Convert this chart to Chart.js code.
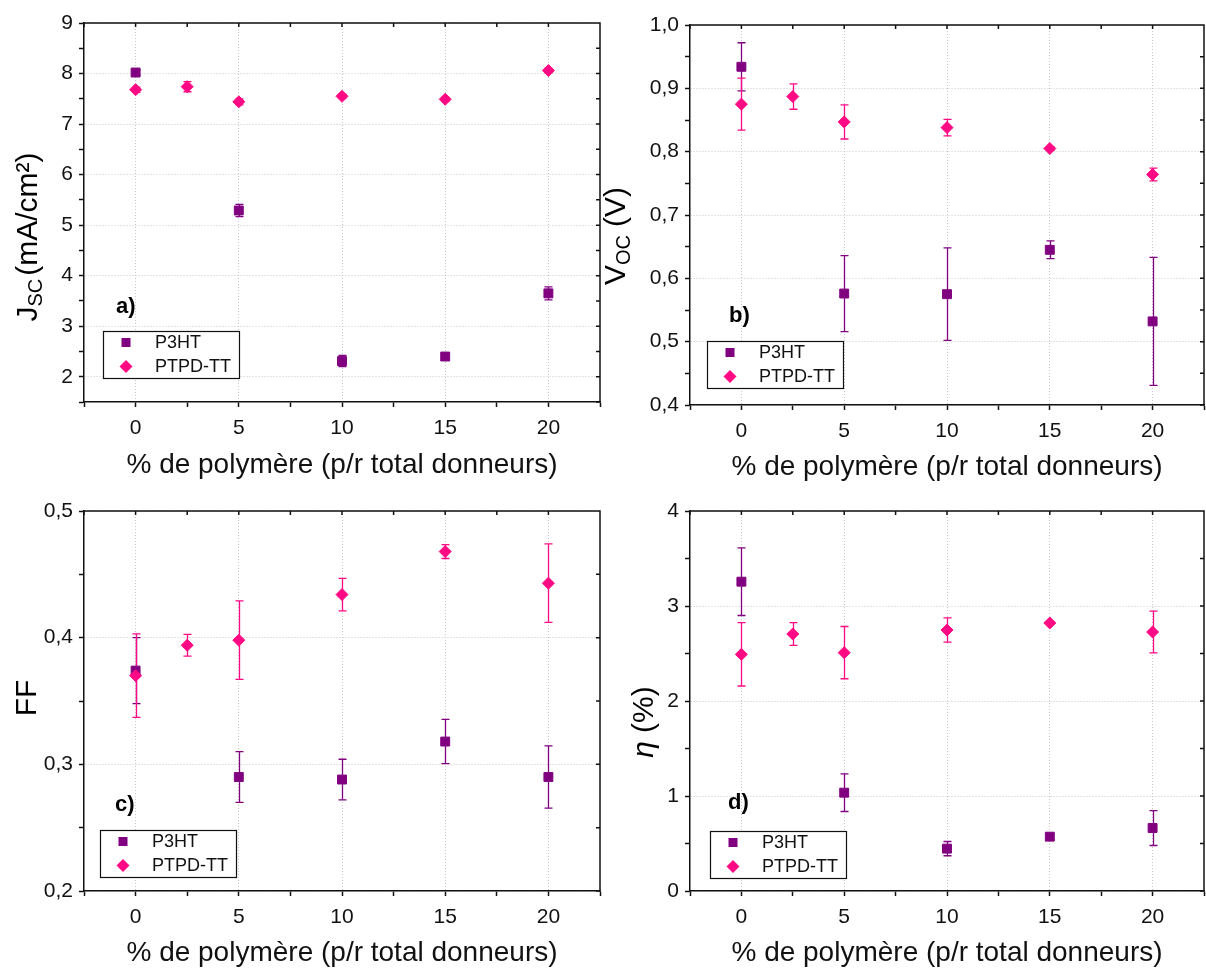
<!DOCTYPE html>
<html><head><meta charset="utf-8">
<script src="https://cdn.jsdelivr.net/npm/chart.js@4/dist/chart.umd.min.js"></script>
<style>
html,body{margin:0;padding:0;background:#fff;width:1206px;height:968px;overflow:hidden}
canvas{position:absolute}
</style></head><body>
<canvas id="ca" width="603" height="484" style="left:0;top:0"></canvas>
<canvas id="cb" width="603" height="484" style="left:603px;top:0"></canvas>
<canvas id="cc" width="603" height="484" style="left:0;top:484px"></canvas>
<canvas id="cd" width="603" height="484" style="left:603px;top:484px"></canvas>
<script>
// ---- data ----
const seriesNames = ['P3HT', 'PTPD-TT'];
const xP3HT = [0, 5, 10, 15, 20];
const xPTPD = [0, 2.5, 5, 10, 15, 20];

const jscP3HT = [8.02, 5.29, 2.31, 2.40, 3.65];
const jscP3HTErr = [0.05, 0.12, 0.11, 0.05, 0.13];
const jscPTPD = [7.68, 7.74, 7.44, 7.55, 7.49, 8.06];
const jscPTPDErr = [0.05, 0.10, 0.06, 0.04, 0.04, 0.04];

const vocP3HT = [0.934, 0.576, 0.575, 0.645, 0.532];
const vocP3HTErr = [0.038, 0.060, 0.073, 0.014, 0.101];
const vocPTPD = [0.875, 0.887, 0.847, 0.838, 0.805, 0.764];
const vocPTPDErr = [0.041, 0.020, 0.027, 0.013, 0.003, 0.010];

const ffP3HT = [0.374, 0.290, 0.288, 0.318, 0.290];
const ffP3HTErr = [0.026, 0.020, 0.016, 0.0175, 0.0245];
const ffPTPD = [0.370, 0.394, 0.398, 0.434, 0.468, 0.443];
const ffPTPDErr = [0.033, 0.0086, 0.031, 0.0128, 0.0055, 0.031];

const etaP3HT = [3.256, 1.035, 0.446, 0.572, 0.663];
const etaP3HTErr = [0.356, 0.198, 0.075, 0.03, 0.184];
const etaPTPD = [2.491, 2.705, 2.509, 2.747, 2.821, 2.726];
const etaPTPDErr = [0.333, 0.12, 0.275, 0.128, 0.01, 0.22];

const xTickValues = [0, 5, 10, 15, 20];
const xTickLabels = ['0', '5', '10', '15', '20'];
const jscTickValues = [2, 3, 4, 5, 6, 7, 8, 9];
const jscTickLabels = ['2', '3', '4', '5', '6', '7', '8', '9'];
const vocTickValues = [0.4, 0.5, 0.6, 0.7, 0.8, 0.9, 1.0];
const vocTickLabels = ['0,4', '0,5', '0,6', '0,7', '0,8', '0,9', '1,0'];
const ffTickValues = [0.2, 0.3, 0.4, 0.5];
const ffTickLabels = ['0,2', '0,3', '0,4', '0,5'];
const etaTickValues = [0, 1, 2, 3, 4];
const etaTickLabels = ['0', '1', '2', '3', '4'];

const xTitle = '% de polymère (p/r total donneurs)';

// ---- styles ----
const FONT = "'Liberation Sans', Arial, Helvetica, sans-serif";
const PURPLE = '#800080';
const PINK = '#ff0a84';

function findIdx(vals, v) { return vals.findIndex(t => Math.abs(t - v) < 1e-6); }

const decor = {
  id: 'decor',
  beforeDatasetsDraw(chart) {
    const ctx = chart.ctx, xs = chart.scales.x, ys = chart.scales.y;
    chart.data.datasets.forEach(ds => {
      if (!ds.errorBars) return;
      ctx.save();
      ctx.strokeStyle = ds.borderColor;
      ctx.lineWidth = 1.3;
      ds.data.forEach((p, j) => {
        const e = ds.errorBars[j];
        const x = Math.round(xs.getPixelForValue(p.x)) + 0.5;
        const y1 = ys.getPixelForValue(p.y + e), y2 = ys.getPixelForValue(p.y - e);
        ctx.beginPath();
        ctx.moveTo(x, y1); ctx.lineTo(x, y2);
        ctx.moveTo(x - 4, y1); ctx.lineTo(x + 4, y1);
        ctx.moveTo(x - 4, y2); ctx.lineTo(x + 4, y2);
        ctx.stroke();
      });
      ctx.restore();
    });
  },
  afterDraw(chart, args, o) {
    const ctx = chart.ctx, xs = chart.scales.x, ys = chart.scales.y;
    const {left, right, top, bottom} = chart.chartArea;
    ctx.save();
    ctx.strokeStyle = '#111';
    ctx.lineWidth = 1.5;
    ctx.beginPath();
    ctx.moveTo(left, top); ctx.lineTo(right, top); ctx.lineTo(right, bottom);
    xs.ticks.forEach(t => { const px = xs.getPixelForValue(t.value); ctx.moveTo(px, top); ctx.lineTo(px, top + 4); });
    ys.ticks.forEach(t => { const py = ys.getPixelForValue(t.value); ctx.moveTo(right, py); ctx.lineTo(right - 4, py); });
    ctx.stroke();

    // legend
    const L = o.legend;
    ctx.fillStyle = '#fff';
    ctx.fillRect(L.x, L.y, L.w, L.h);
    ctx.lineWidth = 1.2;
    ctx.strokeStyle = '#111';
    ctx.strokeRect(L.x + 0.5, L.y + 0.5, L.w, L.h);
    const rows = [L.y + 11.5, L.y + 35.5];
    chart.data.datasets.forEach((ds, i) => {
      const cx = L.x + 23, cy = rows[i];
      ctx.fillStyle = ds.backgroundColor;
      ctx.beginPath();
      if (ds.pointStyle === 'rect') {
        ctx.rect(cx - 4.5, cy - 4.5, 9, 9);
      } else {
        ctx.moveTo(cx - 6.5, cy); ctx.lineTo(cx, cy - 6.5); ctx.lineTo(cx + 6.5, cy); ctx.lineTo(cx, cy + 6.5); ctx.closePath();
      }
      ctx.fill();
      ctx.fillStyle = '#111';
      ctx.font = '18px ' + FONT;
      ctx.textBaseline = 'middle';
      ctx.textAlign = 'left';
      ctx.fillText(ds.label, L.x + 52, cy + 1);
    });

    // panel label
    ctx.font = 'bold 22px ' + FONT;
    ctx.fillStyle = '#000';
    ctx.textBaseline = 'middle';
    ctx.fillText(o.tag.text, o.tag.x, o.tag.y);

    // y title
    const T = o.yTitle;
    ctx.translate(T.cx, T.cy);
    ctx.rotate(-Math.PI / 2);
    let total = 0;
    T.parts.forEach(p => { ctx.font = (p.italic ? 'italic ' : '') + p.size + 'px ' + FONT; p.w = ctx.measureText(p.t).width + (p.gap || 0); total += p.w; });
    let xx = -total / 2;
    ctx.textAlign = 'left';
    ctx.textBaseline = 'middle';
    T.parts.forEach(p => {
      ctx.font = (p.italic ? 'italic ' : '') + p.size + 'px ' + FONT;
      ctx.fillText(p.t, xx, p.dy || 0);
      xx += p.w;
    });
    ctx.restore();
  }
};

function makeChart(id, c) {
  const datasets = [
    {label: seriesNames[0], data: xP3HT.map((x, i) => ({x, y: c.p3[i]})), errorBars: c.p3e,
     pointStyle: 'rect', pointRadius: 6.3, pointBorderWidth: 1, backgroundColor: PURPLE, borderColor: PURPLE, order: 1, showLine: false},
    {label: seriesNames[1], data: xPTPD.map((x, i) => ({x, y: c.pt[i]})), errorBars: c.pte,
     pointStyle: 'rectRot', pointRadius: 6, pointBorderWidth: 1, backgroundColor: PINK, borderColor: PINK, order: 0, showLine: false}
  ];
  return new Chart(document.getElementById(id), {
    type: 'scatter',
    data: {datasets},
    plugins: [decor],
    options: {
      responsive: false, animation: false, devicePixelRatio: 1,
      layout: {autoPadding: false, padding: {left: 0, top: c.top, right: c.right, bottom: 0}},
      plugins: {legend: {display: false}, tooltip: {enabled: false}, decor: c.decor},
      scales: {
        x: {
          type: 'linear', min: -2.5, max: 22.5,
          afterFit: s => { s.height = c.xh; s.paddingLeft = 0; s.paddingRight = 0; },
          ticks: {stepSize: 2.5, autoSkip: false, maxRotation: 0, minRotation: 0, color: '#111', padding: 9,
                  font: {family: FONT, size: 21},
                  callback: v => { const k = findIdx(xTickValues, v); return k >= 0 ? xTickLabels[k] : ''; }},
          grid: {color: ctx => (ctx.tick && findIdx(xTickValues, ctx.tick.value) >= 0) ? '#c8c8c8' : 'rgba(0,0,0,0)',
                 lineWidth: 1, tickColor: '#111', tickLength: 5, tickWidth: 1.5},
          border: {display: true, color: '#111', width: 1.5, dash: [1, 2]},
          title: {display: true, text: xTitle, color: '#111', font: {family: FONT, size: 28, lineHeight: 1},
                  padding: {top: 0, bottom: c.tpad}}
        },
        y: {
          type: 'linear', min: c.ymin, max: c.ymax,
          afterFit: s => { s.width = c.yw; s.paddingTop = 0; s.paddingBottom = 0; },
          ticks: {stepSize: c.ystep, autoSkip: false, color: '#111', padding: 6,
                  font: {family: FONT, size: 21},
                  callback: v => { const k = findIdx(c.tv, v); return k >= 0 ? c.tl[k] : ''; }},
          grid: {color: ctx => (ctx.tick && findIdx(c.tv, ctx.tick.value) >= 0) ? '#c8c8c8' : 'rgba(0,0,0,0)',
                 lineWidth: 1, tickColor: '#111', tickLength: 5, tickWidth: 1.5},
          border: {display: true, color: '#111', width: 1.5, dash: [1, 2]}
        }
      }
    }
  });
}

makeChart('ca', {p3: jscP3HT, p3e: jscP3HTErr, pt: jscPTPD, pte: jscPTPDErr,
  ymin: 1.5, ymax: 9, ystep: 0.5, tv: jscTickValues, tl: jscTickLabels,
  top: 23, right: 3, yw: 84, xh: 82, tpad: 5,
  decor: {legend: {x: 103, y: 331, w: 136, h: 47}, tag: {text: 'a)', x: 116, y: 307},
    yTitle: {cx: 29, cy: 237, parts: [{t: 'J', size: 30}, {t: 'SC', size: 20, dy: 7, gap: 3}, {t: '(mA/cm²)', size: 30}]}}});

makeChart('cb', {p3: vocP3HT, p3e: vocP3HTErr, pt: vocPTPD, pte: vocPTPDErr,
  ymin: 0.4, ymax: 1.0, ystep: 0.05, tv: vocTickValues, tl: vocTickLabels,
  top: 25, right: 2, yw: 87, xh: 79, tpad: 3,
  decor: {legend: {x: 104, y: 341, w: 136, h: 47}, tag: {text: 'b)', x: 126, y: 316},
    yTitle: {cx: 14, cy: 236, parts: [{t: 'V', size: 30}, {t: 'OC', size: 20, dy: 7, gap: 8}, {t: '(V)', size: 30}]}}});

makeChart('cc', {p3: ffP3HT, p3e: ffP3HTErr, pt: ffPTPD, pte: ffPTPDErr,
  ymin: 0.2, ymax: 0.5, ystep: 0.05, tv: ffTickValues, tl: ffTickLabels,
  top: 27, right: 3, yw: 84, xh: 77, tpad: 1,
  decor: {legend: {x: 100, y: 346, w: 136, h: 47}, tag: {text: 'c)', x: 115, y: 321},
    yTitle: {cx: 28, cy: 214, parts: [{t: 'FF', size: 30}]}}});

makeChart('cd', {p3: etaP3HT, p3e: etaP3HTErr, pt: etaPTPD, pte: etaPTPDErr,
  ymin: 0, ymax: 4, ystep: 0.5, tv: etaTickValues, tl: etaTickLabels,
  top: 27, right: 2, yw: 87, xh: 77, tpad: 1,
  decor: {legend: {x: 107, y: 347, w: 136, h: 47}, tag: {text: 'd)', x: 125, y: 319},
    yTitle: {cx: 42, cy: 238, parts: [{t: 'η', size: 30, italic: true, gap: 8}, {t: '(%)', size: 30}]}}});
</script>
</body></html>
